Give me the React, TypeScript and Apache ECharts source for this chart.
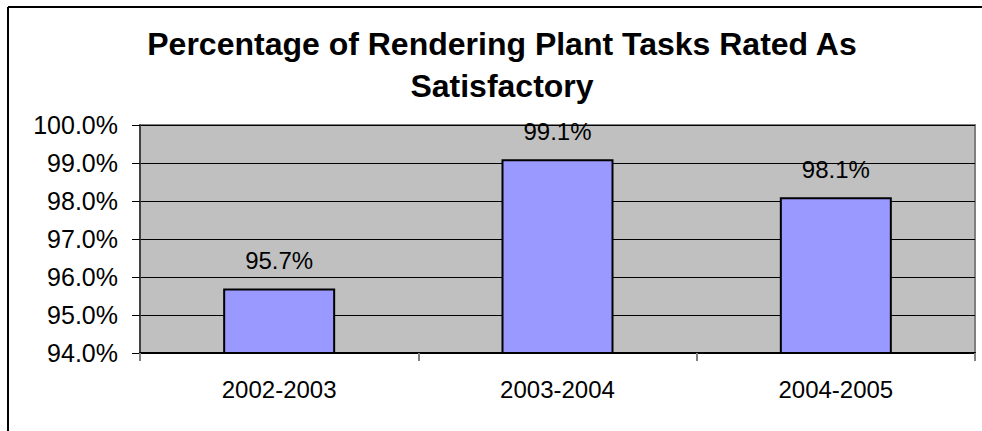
import React, { useEffect, useRef } from "react";
import * as echarts from "echarts";

const titleLines = ["Percentage of Rendering Plant Tasks Rated As", "Satisfactory"];
const categories = ["2002-2003", "2003-2004", "2004-2005"];
const values = [95.7, 99.1, 98.1];
const yMin = 94;
const yMax = 100;
const yStep = 1;

const FONT = "'Liberation Sans', Arial, sans-serif";

export default function App() {
  const ref = useRef<HTMLDivElement>(null);
  useEffect(() => {
    if (!ref.current) return;
    const chart = echarts.init(ref.current, undefined, { renderer: "svg" });
    chart.setOption({
      animation: false,
      backgroundColor: "#ffffff",
      textStyle: { fontFamily: FONT },
      graphic: [
        { type: "line", shape: { x1: 8, y1: 7, x2: 982, y2: 7 }, style: { stroke: "#000", lineWidth: 2 } },
        { type: "line", shape: { x1: 8, y1: 7, x2: 8, y2: 431 }, style: { stroke: "#000", lineWidth: 2 } },
        {
          type: "text",
          x: 502,
          y: 44,
          style: { text: titleLines[0], fontFamily: FONT, fontSize: 32, fontWeight: "bold", fill: "#000", textAlign: "center", textVerticalAlign: "middle" },
        },
        {
          type: "text",
          x: 502,
          y: 86,
          style: { text: titleLines[1], fontFamily: FONT, fontSize: 32, fontWeight: "bold", fill: "#000", textAlign: "center", textVerticalAlign: "middle" },
        },
      ],
      grid: {
        left: 140,
        right: 7,
        top: 125,
        bottom: 78,
        show: true,
        backgroundColor: "#C0C0C0",
        borderColor: "#808080",
        borderWidth: 2,
      },
      xAxis: {
        type: "category",
        data: categories,
        boundaryGap: true,
        axisLine: { show: true, lineStyle: { color: "#000", width: 2 } },
        axisTick: { show: true, alignWithLabel: false, length: 8, lineStyle: { color: "#808080", width: 2 } },
        axisLabel: { color: "#000", fontSize: 24, fontFamily: FONT, margin: 24 },
        splitLine: { show: false },
      },
      yAxis: {
        type: "value",
        min: yMin,
        max: yMax,
        interval: yStep,
        axisLine: { show: true, lineStyle: { color: "#404040", width: 2 } },
        axisTick: { show: true, length: 8, lineStyle: { color: "#000", width: 1 } },
        axisLabel: {
          color: "#000",
          fontSize: 25,
          fontFamily: FONT,
          margin: 22,
          formatter: (v: number) => v.toFixed(1) + "%",
        },
        splitLine: { show: true, lineStyle: { color: "#000", width: 1 } },
      },
      series: [
        {
          type: "bar",
          data: values,
          barWidth: 112,
          itemStyle: { color: "#9999FF", borderColor: "#000", borderWidth: 2 },
          label: {
            show: true,
            position: "top",
            distance: 16,
            color: "#000",
            fontSize: 24,
            fontFamily: FONT,
            formatter: (p: any) => Number(p.value).toFixed(1) + "%",
          },
        },
      ],
    });
    return () => chart.dispose();
  }, []);
  return (
    <div
      ref={ref}
      style={{ position: "fixed", left: 0, top: 0, width: 982, height: 431 }}
    />
  );
}
